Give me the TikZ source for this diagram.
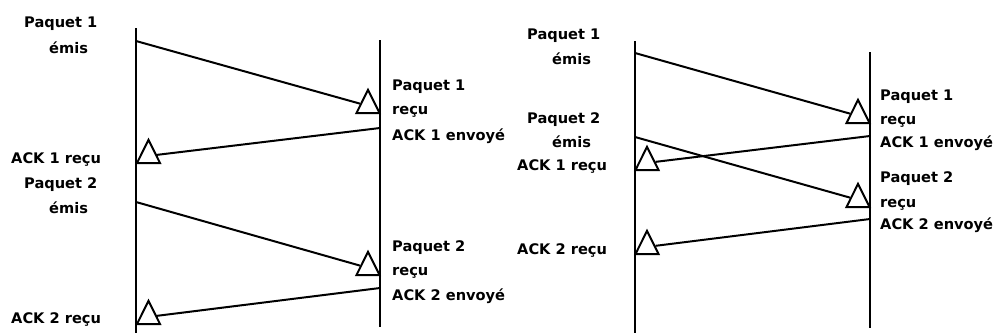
\documentclass[tikz,border=0pt]{standalone}
\usepackage{fontspec}
\setmainfont{DejaVu Sans}
\usetikzlibrary{shapes.geometric}
\begin{document}
\begin{tikzpicture}[x=1pt,y=-1pt,
  wire/.style={line width=2pt},
  tri/.style={draw, line width=2pt, isosceles triangle, isosceles triangle apex angle=53,
    shape border rotate=90, minimum width=23pt, minimum height=23pt, inner sep=0pt, anchor=south},
  lbl/.style={anchor=base west, inner sep=0pt, font=\fontsize{14.6}{17}\selectfont\bfseries}]
\useasboundingbox (0,0) rectangle (995,333);
% ---------- left diagram ----------
\coordinate (la1) at (136,28);  \coordinate (la2) at (136,333);
\coordinate (lb1) at (380,40);  \coordinate (lb2) at (380,327);
\draw[wire] (la1) -- (la2);
\draw[wire] (lb1) -- (lb2);
\node[tri] (lt1) at (368,114) {};
\node[tri] (lt2) at (148.5,164) {};
\node[tri] (lt3) at (368,276) {};
\node[tri] (lt4) at (148.5,325) {};
\coordinate (ls1) at (136,41);
\coordinate (ls2) at (380,128);
\coordinate (ls3) at (136,202);
\coordinate (ls4) at (380,288);
\draw[wire] (ls1) -- (lt1);
\draw[wire] (ls2) -- (lt2);
\draw[wire] (ls3) -- (lt3);
\draw[wire] (ls4) -- (lt4);
\node[lbl] (l1) at (24,27.5) {Paquet 1};
\node[lbl] (l2) at (49,53.5) {émis};
\node[lbl] (l3) at (392,90.5) {Paquet 1};
\node[lbl] (l4) at (392,114) {reçu};
\node[lbl] (l5) at (392,140.5) {ACK 1 envoyé};
\node[lbl] (l6) at (11,163.5) {ACK 1 reçu};
\node[lbl] (l7) at (24,188.5) {Paquet 2};
\node[lbl] (l8) at (49,213) {émis};
\node[lbl] (l9) at (392,251) {Paquet 2};
\node[lbl] (l10) at (392,275) {reçu};
\node[lbl] (l11) at (392,300.5) {ACK 2 envoyé};
\node[lbl] (l12) at (11,323.5) {ACK 2 reçu};
% ---------- right diagram ----------
\coordinate (ra1) at (635,41);  \coordinate (ra2) at (635,333);
\coordinate (rb1) at (870,52);  \coordinate (rb2) at (870,328);
\draw[wire] (ra1) -- (ra2);
\draw[wire] (rb1) -- (rb2);
\node[tri] (rt1) at (858,124) {};
\node[tri] (rt2) at (647,171) {};
\node[tri] (rt3) at (858,208) {};
\node[tri] (rt4) at (647,255) {};
\coordinate (rs1) at (635,53);
\coordinate (rs2) at (870,136);
\coordinate (rs3) at (635,137);
\coordinate (rs4) at (870,219);
\draw[wire] (rs1) -- (rt1);
\draw[wire] (rs2) -- (rt2);
\draw[wire] (rs3) -- (rt3);
\draw[wire] (rs4) -- (rt4);
\node[lbl] (r1) at (527,39) {Paquet 1};
\node[lbl] (r2) at (552,64) {émis};
\node[lbl] (r3) at (527,123) {Paquet 2};
\node[lbl] (r4) at (552,147) {émis};
\node[lbl] (r5) at (517,170.5) {ACK 1 reçu};
\node[lbl] (r6) at (517,254) {ACK 2 reçu};
\node[lbl] (r7) at (880,100.5) {Paquet 1};
\node[lbl] (r8) at (880,124) {reçu};
\node[lbl] (r9) at (880,147) {ACK 1 envoyé};
\node[lbl] (r10) at (880,182) {Paquet 2};
\node[lbl] (r11) at (880,207.5) {reçu};
\node[lbl] (r12) at (880,229.5) {ACK 2 envoyé};
\end{tikzpicture}
\end{document}
